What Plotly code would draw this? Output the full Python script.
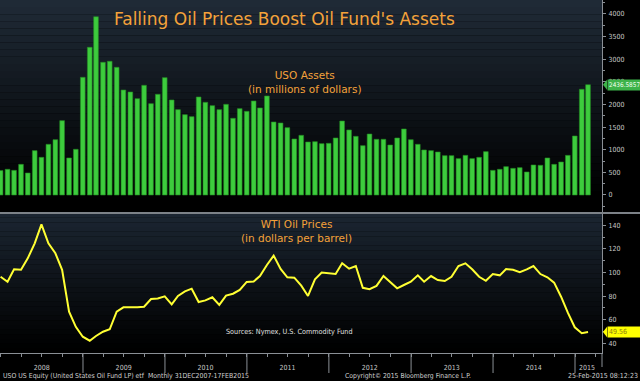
import plotly.graph_objects as go
import pandas as pd

# ---- data (month-end observations, Dec 2007 - Feb 2015) ----
months = [d.strftime("%Y-%m-%d") for d in pd.date_range("2007-12-31", periods=87, freq="ME")]

uso_assets = [540, 568, 545, 678, 486, 980, 833, 1120, 1222, 1643,
              818, 1010, 2601, 3264, 3940, 2932, 2955, 2822, 2320, 2276,
              2128, 2424, 2018, 2225, 2593, 2100, 1886, 1775, 1731, 2166,
              2048, 1974, 1886, 2004, 1695, 1908, 1849, 2077, 1923, 2188,
              1613, 1591, 1488, 1238, 1319, 1171, 1178, 1134, 1142, 1260,
              1635, 1437, 1297, 1090, 1348, 1231, 1231, 1105, 1260, 1459,
              1222, 1120, 995, 980, 950, 869, 869, 803, 876, 803,
              833, 958, 545, 568, 626, 589, 604, 508, 663, 656,
              818, 678, 729, 876, 1304, 2336, 2436.5857]

wti_price = [96.4, 92.2, 102.7, 102.3, 112.0, 124.7, 140.8, 124.7, 116.3, 102.3,
             66.8, 54.0, 45.6, 42.2, 46.2, 49.8, 51.9, 66.8, 70.5, 70.2,
             70.5, 71.0, 77.5, 78.0, 79.8, 73.0, 80.1, 84.0, 86.3, 75.0,
             76.4, 79.0, 72.5, 80.4, 82.0, 85.2, 92.0, 92.4, 97.0, 106.4,
             114.3, 103.0, 95.9, 95.6, 88.8, 80.1, 94.2, 100.0, 99.3, 98.7,
             107.8, 103.2, 105.5, 87.0, 85.8, 88.6, 97.0, 92.2, 86.6, 89.4,
             92.2, 97.6, 92.2, 97.0, 93.6, 92.8, 96.4, 105.5, 107.8, 102.7,
             96.4, 93.0, 98.7, 97.6, 103.0, 102.3, 100.3, 102.7, 105.5, 98.7,
             95.9, 91.4, 79.5, 66.0, 53.6, 48.5, 49.56]

year_labels = ["2008", "2009", "2010", "2011", "2012", "2013", "2014", "2015"]
year_label_pos = ["2008-07-01", "2009-07-01", "2010-07-01", "2011-07-01",
                  "2012-07-01", "2013-07-01", "2014-07-01", "2015-02-23"]
year_bounds = ["2009-01-01", "2010-01-01", "2011-01-01", "2012-01-01",
               "2013-01-01", "2014-01-01", "2015-01-01"]

assets_ticks = [0, 500, 1000, 1500, 2000, 2500, 3000, 3500, 4000]
price_ticks = [40, 60, 80, 100, 120, 140]

last_assets = uso_assets[-1]
last_price = wti_price[-1]

FONT = "DejaVu Sans Condensed, DejaVu Sans, sans-serif"
TFONT = "DejaVu Sans, sans-serif"
ORANGE = "#f4a23a"
TICKC = "#c8c8c8"
AXC = "#8a8f95"

W, H = 640, 381
ML, MR, MT, MB = 0, 38, 0, 28
PW, PH = W - ML - MR, H - MT - MB
split_px = 213
split = (PH - split_px) / PH

fig = go.Figure()
fig.add_trace(go.Bar(x=months, y=uso_assets, xaxis="x", yaxis="y",
                     marker=dict(color="#3dcc3d", line=dict(color="#238a23", width=0.6)),
                     width=21 * 86400000, showlegend=False))
fig.add_trace(go.Scatter(x=months, y=wti_price, xaxis="x", yaxis="y2", mode="lines",
                         line=dict(color="#ffff33", width=2), showlegend=False))

shapes = []


def lerp(c1, c2, t):
    return "rgb(%d,%d,%d)" % tuple(int(round(a + (b - a) * t)) for a, b in zip(c1, c2))


# gradient backgrounds
top_c = (31, 42, 54)
bot_c = (0, 0, 0)
n = 30
for i in range(n):
    t = i / n
    y1 = 1 - t * (1 - split)
    y0 = 1 - (i + 1) / n * (1 - split)
    shapes.append(dict(type="rect", xref="paper", yref="paper", x0=0, x1=1, y0=y0, y1=y1,
                       fillcolor=lerp(top_c, bot_c, min(1, t / 0.9)), line=dict(width=0),
                       layer="below"))
top2 = (27, 37, 49)
for i in range(n):
    t = i / n
    y1 = split - t * split
    y0 = split - (i + 1) / n * split
    shapes.append(dict(type="rect", xref="paper", yref="paper", x0=0, x1=1, y0=y0, y1=y1,
                       fillcolor=lerp(top2, bot_c, min(1, t / 0.95)), line=dict(width=0),
                       layer="below"))

# divider
shapes.append(dict(type="line", xref="paper", yref="paper", x0=0, x1=W / PW, y0=split, y1=split,
                   line=dict(color="#7d8288", width=2)))
# axis line extension below
shapes.append(dict(type="line", xref="paper", yref="paper", x0=1, x1=1, y0=0, y1=-14 / PH,
                   line=dict(color=AXC, width=1)))
# year separators
for d in year_bounds:
    shapes.append(dict(type="line", xref="x", yref="paper", x0=d, x1=d, y0=0, y1=-20 / PH,
                       line=dict(color=AXC, width=1)))

# value flag arrows
shapes.append(dict(type="path", xref="paper", yref="y",
                   path="M %f,%f L %f,%f L %f,%f Z" % (1 + 1 / PW, last_assets,
                                                       1 + 5 / PW, last_assets + 110,
                                                       1 + 5 / PW, last_assets - 110),
                   fillcolor="#3db34a", line=dict(width=0)))
shapes.append(dict(type="path", xref="paper", yref="y2",
                   path="M %f,%f L %f,%f L %f,%f Z" % (1 + 1 / PW, last_price,
                                                       1 + 5 / PW, last_price + 4.5,
                                                       1 + 5 / PW, last_price - 4.5),
                   fillcolor="#ffff00", line=dict(width=0)))

annotations = [
    dict(text="Falling Oil Prices Boost Oil Fund's Assets", xref="paper", yref="paper",
         x=284 / PW, y=(PH - 19) / PH, xanchor="center", yanchor="middle", showarrow=False,
         font=dict(family=TFONT, size=17, color=ORANGE)),
    dict(text="USO Assets<br>(in millions of dollars)", xref="paper", yref="paper",
         x=305 / PW, y=(PH - 82) / PH, xanchor="center", yanchor="middle", showarrow=False,
         font=dict(family=TFONT, size=10.5, color=ORANGE)),
    dict(text="WTI Oil Prices<br>(in dollars per barrel)", xref="paper", yref="paper",
         x=296 / PW, y=(PH - 230.5) / PH, xanchor="center", yanchor="middle", showarrow=False,
         font=dict(family=TFONT, size=10.5, color=ORANGE)),
    dict(text="Sources: Nymex, U.S. Commodity Fund", xref="paper", yref="paper",
         x=289 / PW, y=(PH - 331) / PH, xanchor="center", yanchor="middle", showarrow=False,
         font=dict(family=FONT, size=7.2, color="#e0e0e0")),
    dict(text="USO US Equity (United States Oil Fund LP) etf  Monthly 31DEC2007-17FEB2015",
         xref="paper", yref="paper", x=1 / PW, y=(PH - 376) / PH, xanchor="left",
         yanchor="middle", showarrow=False, font=dict(family=FONT, size=6.9, color="#d0d0d0")),
    dict(text="Copyright© 2015 Bloomberg Finance L.P.", xref="paper", yref="paper",
         x=408 / PW, y=(PH - 376) / PH, xanchor="center", yanchor="middle", showarrow=False,
         font=dict(family=FONT, size=6.8, color="#d0d0d0")),
    dict(text="25-Feb-2015 08:12:23", xref="paper", yref="paper",
         x=W / PW, y=(PH - 376) / PH, xanchor="right", yanchor="middle", showarrow=False,
         font=dict(family=FONT, size=7, color="#d0d0d0")),
    dict(text="%.4f" % last_assets, xref="paper", yref="y", x=1 + 5 / PW, y=last_assets,
         xanchor="left", yanchor="middle", showarrow=False, bgcolor="#3db34a",
         borderpad=1, font=dict(family=FONT, size=6.4, color="#f0fff0")),
    dict(text="%.2f" % last_price, xref="paper", yref="y2", x=1 + 5 / PW, y=last_price,
         xanchor="left", yanchor="middle", showarrow=False, bgcolor="#ffff00",
         borderpad=1, width=36, align="left", font=dict(family=FONT, size=7, color="#8a7a10")),
]

tickfont = dict(family=FONT, size=7, color=TICKC)

fig.update_layout(
    width=W, height=H,
    margin=dict(l=ML, r=MR, t=MT, b=MB, pad=0),
    paper_bgcolor="#000000", plot_bgcolor="rgba(0,0,0,0)",
    bargap=0.3, showlegend=False, hovermode=False,
    xaxis=dict(type="date", anchor="y2", domain=[0, 1],
               range=["2007-12-28 10:00", "2015-05-01 05:00"],
               tickmode="array", tickvals=year_label_pos, ticktext=year_labels,
               ticks="", ticklabelstandoff=8, showgrid=False, zeroline=False,
               showline=True, linecolor=AXC, linewidth=1,
               tickfont=tickfont,
               minor=dict(ticks="outside", ticklen=3, tickcolor=AXC, dtick="M3",
                          tick0="2008-01-01", showgrid=False)),
    yaxis=dict(domain=[split, 1], anchor="x", side="right", range=[-398, 4309],
               tickmode="array", tickvals=assets_ticks, ticks="outside", ticklen=3,
               tickcolor=AXC, showgrid=False, zeroline=False, showline=True,
               linecolor=AXC, linewidth=1, ticklabelstandoff=1,
               tickfont=tickfont,
               minor=dict(ticks="outside", ticklen=2, tickcolor=AXC, dtick=250, tick0=0)),
    yaxis2=dict(domain=[0, split], anchor="x", side="right", range=[31.8, 150.4],
                tickmode="array", tickvals=price_ticks, ticks="outside", ticklen=3,
                tickcolor=AXC, showgrid=False, zeroline=False, showline=True,
                linecolor=AXC, linewidth=1, ticklabelstandoff=1,
                tickfont=tickfont,
                minor=dict(ticks="outside", ticklen=2, tickcolor=AXC, dtick=10, tick0=0)),
    shapes=shapes,
    annotations=annotations,
)

fig.write_html("out.html", config={"displayModeBar": False},
               post_script="document.body.style.margin='0';document.body.style.background='#000';")
